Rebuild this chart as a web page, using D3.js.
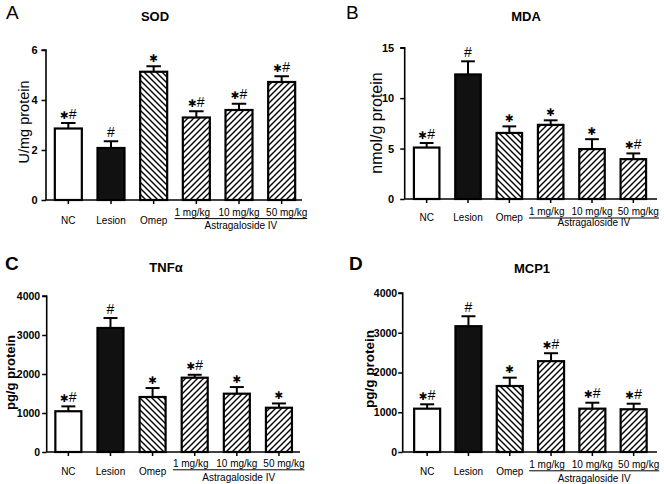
<!DOCTYPE html>
<html><head><meta charset="utf-8">
<script src="https://cdn.jsdelivr.net/npm/d3@7"></script>
<style>
body{margin:0;background:#fff;}
text{font-family:"Liberation Sans",Arial,Helvetica,sans-serif;fill:#000;}
</style></head>
<body><svg id="c" width="664" height="484"></svg>
<script>
// ---- data ----
const categories = ["NC","Lesion","Omep","1 mg/kg","10 mg/kg","50 mg/kg"];
const groupLabel = "Astragaloside IV";

const sodMean = [2.86, 2.08, 5.13, 3.30, 3.60, 4.72];
const sodErr  = [0.22, 0.27, 0.22, 0.25, 0.25, 0.23];
const sodAnn  = ["*#","#","*","*#","*#","*#"];
const sodTicks = [0, 2, 4, 6];

const mdaMean = [5.1, 12.35, 6.55, 7.35, 4.95, 3.95];
const mdaErr  = [0.45, 1.3, 0.65, 0.45, 0.98, 0.57];
const mdaAnn  = ["*#","#","*","*","*","*#"];
const mdaTicks = [0, 5, 10, 15];

const tnfMean = [1045, 3180, 1410, 1905, 1495, 1135];
const tnfErr  = [125, 255, 230, 75, 170, 110];
const tnfAnn  = ["*#","#","*","*#","*","*"];
const tnfTicks = [0, 1000, 2000, 3000, 4000];

const mcpMean = [1090, 3165, 1660, 2285, 1090, 1075];
const mcpErr  = [110, 250, 210, 200, 150, 140];
const mcpAnn  = ["*#","#","*","*#","*#","*#"];
const mcpTicks = [0, 1000, 2000, 3000, 4000];

// ---- layout ----
const panels = [
  {letter:"A", letterBold:false, lx:6, ly:19, title:"SOD", tx:155, ty:21,
   ylabel:"U/mg protein", ylx:29, yly:122, ylSize:14.5, ylBold:false,
   mean:sodMean, err:sodErr, ann:sodAnn, ticks:sodTicks, tickPad:4, tickFont:11,
   axisX:46, xr:[47,303], axisEnd:302, y0:200, yTop:50, barW:29,
   catY:223.5, doseY:216.3, lineY:218.6, groupY:228.8},
  {letter:"B", letterBold:false, lx:346, ly:19, title:"MDA", tx:526, ty:21,
   ylabel:"nmol/g protein", ylx:382, yly:123, ylSize:16, ylBold:false,
   mean:mdaMean, err:mdaErr, ann:mdaAnn, ticks:mdaTicks, tickPad:6, tickFont:11,
   axisX:404.7, xr:[406,654], axisEnd:657, y0:199, yTop:47.7, barW:27.5,
   catY:221, doseY:215.3, lineY:218, groupY:226.3},
  {letter:"C", letterBold:true, lx:5, ly:270, title:"TNF\u03b1", tx:166, ty:272,
   ylabel:"pg/g protein", ylx:15, yly:372.5, ylSize:13, ylBold:true,
   mean:tnfMean, err:tnfErr, ann:tnfAnn, ticks:tnfTicks, tickPad:2, tickFont:10.5,
   axisX:46.7, xr:[47.3,300], axisEnd:300, y0:452, yTop:296, barW:28,
   catY:474.8, doseY:467.2, lineY:469.8, groupY:480.6},
  {letter:"D", letterBold:true, lx:349, ly:270, title:"MCP1", tx:532, ty:273,
   ylabel:"pg/g protein", ylx:373.5, yly:369, ylSize:13.5, ylBold:true,
   mean:mcpMean, err:mcpErr, ann:mcpAnn, ticks:mcpTicks, tickPad:1, tickFont:10.5,
   axisX:402.7, xr:[406.5,654.3], axisEnd:657, y0:452, yTop:293, barW:28,
   catY:474.8, doseY:468.2, lineY:470.8, groupY:481.6}
];
const doseShift = [-4, 0, 5];

const svg = d3.select("#c");
const defs = svg.append("defs");
function hatch(id, d){
  defs.append("pattern").attr("id",id).attr("patternUnits","userSpaceOnUse")
    .attr("width",6).attr("height",6)
    .append("path").attr("d",d).attr("stroke","#000").attr("stroke-width",1.4)
    .attr("fill","none");
}
hatch("fwd","M-1,1 L1,-1 M0,6 L6,0 M5,7 L7,5");
hatch("back","M-1,5 L1,7 M0,0 L6,6 M5,-1 L7,1");
function barFill(i){
  if(i===0) return "#fff";
  if(i===1) return "#111";
  if(i===2) return "url(#back)";
  return "url(#fwd)";
}

panels.forEach(p => {
  const g = svg.append("g");
  const x = d3.scaleBand().domain(categories).range(p.xr).paddingInner(0).paddingOuter(0);
  const y = d3.scaleLinear().domain([0, d3.max(p.ticks)]).range([p.y0, p.yTop]);

  // letter & title
  g.append("text").attr("x",p.lx).attr("y",p.ly).attr("font-size",19)
    .attr("font-weight",p.letterBold?"bold":"normal").text(p.letter);
  g.append("text").attr("x",p.tx).attr("y",p.ty).attr("text-anchor","middle")
    .attr("font-size",13).attr("font-weight","bold").text(p.title);

  // bars
  const cx = c => x(c) + x.bandwidth()/2;
  categories.forEach((c,i) => {
    const top = y(p.mean[i]);
    const et = y(p.mean[i] + p.err[i]);
    // error bar
    g.append("line").attr("x1",cx(c)).attr("x2",cx(c)).attr("y1",top).attr("y2",et)
      .attr("stroke","#000").attr("stroke-width",2);
    g.append("line").attr("x1",cx(c)-p.barW/4).attr("x2",cx(c)+p.barW/4).attr("y1",et).attr("y2",et)
      .attr("stroke","#000").attr("stroke-width",2);
    g.append("rect").attr("x",cx(c)-p.barW/2+1).attr("y",top)
      .attr("width",p.barW-2).attr("height",p.y0-top)
      .attr("fill",barFill(i)).attr("stroke","#000").attr("stroke-width",2.2);
    // annotation
    const a = p.ann[i];
    const t = g.append("text").attr("x",cx(c)).attr("y",et-4.5).attr("text-anchor","middle");
    if(a.includes("*")) t.append("tspan").attr("font-family","DejaVu Sans").attr("font-size",10.5).text("\u2731");
    if(a.includes("#")) t.append("tspan").attr("font-size",14).text("#");
  });

  // y axis
  const ya = g.append("g").attr("transform",`translate(${p.axisX},0)`)
    .call(d3.axisLeft(y).tickValues(p.ticks).tickSize(4.5).tickPadding(p.tickPad).tickFormat(d3.format("d")));
  ya.select(".domain").attr("stroke-width",1.6).attr("d",`M-4.5,${p.yTop}H0V${p.y0}`);
  ya.selectAll(".tick line").attr("stroke-width",1.5);
  ya.selectAll(".tick text").attr("font-size",p.tickFont).attr("font-weight","bold")
    .attr("font-family","Liberation Sans, Arial, sans-serif");

  // x axis
  const xa = g.append("g").attr("transform",`translate(0,${p.y0})`)
    .call(d3.axisBottom(x).tickSize(4).tickFormat(""));
  xa.select(".domain").attr("stroke-width",1.6).attr("d",`M${p.axisX},0H${p.axisEnd}`);
  xa.selectAll(".tick line").attr("stroke-width",1.5);

  // category labels
  let minX = Infinity, maxX = -Infinity;
  categories.forEach((c,i) => {
    const dose = i >= 3;
    const t = g.append("text").attr("x",cx(c) + (dose?doseShift[i-3]:0))
      .attr("y",dose?p.doseY:p.catY).attr("text-anchor","middle").attr("font-size",10).text(c);
    if(dose){
      const w = t.node().getComputedTextLength();
      const xx = cx(c) + doseShift[i-3];
      minX = Math.min(minX, xx - w/2); maxX = Math.max(maxX, xx + w/2);
    }
  });
  g.append("line").attr("x1",minX).attr("x2",maxX).attr("y1",p.lineY).attr("y2",p.lineY)
    .attr("stroke","#000").attr("stroke-width",1);
  g.append("text").attr("x",(minX+maxX)/2).attr("y",p.groupY).attr("text-anchor","middle")
    .attr("font-size",10).text(groupLabel);

  // y label
  g.append("text").attr("transform",`translate(${p.ylx},${p.yly}) rotate(-90)`)
    .attr("text-anchor","middle").attr("font-size",p.ylSize)
    .attr("font-weight",p.ylBold?"bold":"normal").text(p.ylabel);
});
</script>
</body></html>
